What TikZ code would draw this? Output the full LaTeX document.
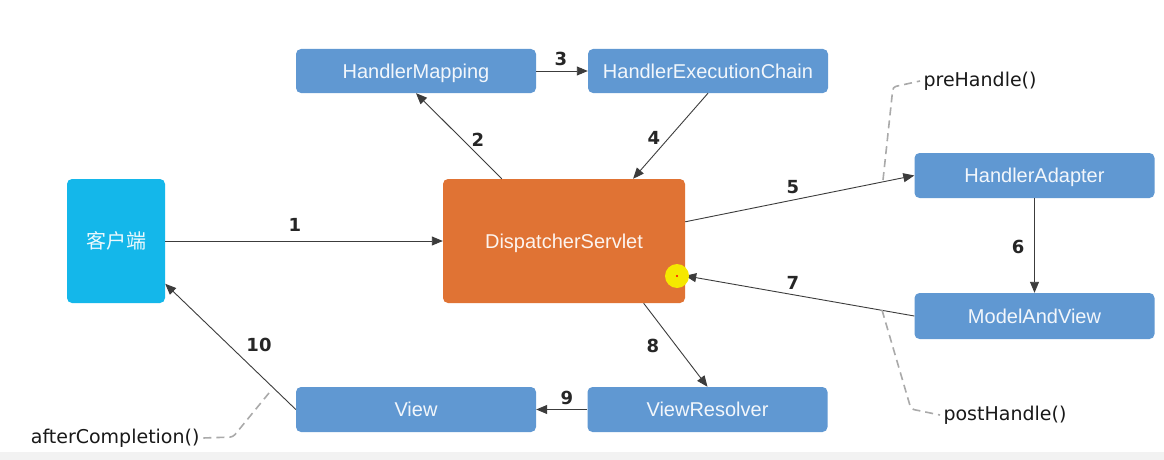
\documentclass[tikz,border=0pt]{standalone}
\usepackage{fontspec}
\setmainfont{Liberation Sans}
\newfontfamily\cjkfont{Noto Sans CJK SC}
\newfontfamily\notefont{DejaVu Sans}
\usetikzlibrary{arrows.meta}

\newlength{\du}
\setlength{\du}{1pt}

\begin{document}
\begin{tikzpicture}[
  box/.style={rounded corners=5pt, inner sep=0pt, text=white, text opacity=0.92, text height=14.5pt, text depth=0pt, font=\fontsize{20}{24}\selectfont},
  bluebox/.style={box, fill=boxblue, minimum width=240pt, minimum height=45pt},
  flow/.style={draw=linegray, line width=0.9pt, -{Triangle[length=11pt,width=9pt]}},
  stepnum/.style={inner sep=0pt, text=black!85, font=\notefont\bfseries\fontsize{18}{20}\selectfont},
  hook/.style={draw=dashgray, line width=1.6pt, dash pattern=on 8pt off 5pt, rounded corners=3pt},
  hooktext/.style={text=black!90, font=\notefont\fontsize{19}{22}\selectfont}
]
\pgftransformxscale{1.000000}
\pgftransformyscale{-1.000000}
\definecolor{boxblue}{RGB}{96,152,210}
\definecolor{clientcyan}{RGB}{20,183,234}
\definecolor{servletorange}{RGB}{224,115,52}
\definecolor{linegray}{RGB}{60,60,60}
\definecolor{dashgray}{RGB}{170,170,170}
\definecolor{bandgray}{RGB}{242,242,242}
\definecolor{cursoryellow}{RGB}{245,232,0}
\useasboundingbox (0\du,0\du) rectangle (1164\du,460\du);
\fill[white] (0\du,0\du) rectangle (1164\du,452\du);
\fill[bandgray] (0\du,452\du) rectangle (1164\du,460\du);

\node[box, fill=clientcyan, minimum width=98pt, minimum height=124pt, font=\cjkfont\fontsize{20}{24}\selectfont] (client) at (116\du,241\du) {客户端};
\node[box, fill=servletorange, minimum width=242pt, minimum height=124pt] (servlet) at (564\du,241\du) {DispatcherServlet};
\node[bluebox, minimum height=44pt] (mapping) at (416\du,71\du) {HandlerMapping};
\node[bluebox, minimum height=44pt] (chain) at (708\du,71\du) {HandlerExecutionChain};
\node[bluebox] (adapter) at (1034.5\du,175.5\du) {HandlerAdapter};
\node[bluebox, minimum height=46pt] (mav) at (1034.5\du,316\du) {ModelAndView};
\node[bluebox] (resolver) at (707.5\du,409.5\du) {ViewResolver};
\node[bluebox] (view) at (416\du,409.5\du) {View};

\draw[flow] (client) -- (servlet);
\draw[flow] (servlet.135) -- (mapping.south);
\draw[flow] (mapping) -- (chain);
\draw[flow] (chain.south) -- (servlet.42);
\draw[flow] (servlet.9) -- (adapter.west);
\draw[flow] (adapter) -- (mav);
\draw[flow] (mav.west) -- (servlet.-16);
\draw[flow] (servlet.-38.5) -- (resolver.north);
\draw[flow] (resolver) -- (view);
\draw[flow] (view.west) -- (client.-41);

\node[stepnum] (n1) at (295\du,225\du) {1};
\node[stepnum] (n2) at (478\du,140\du) {2};
\node[stepnum] (n3) at (561\du,59\du) {3};
\node[stepnum] (n4) at (654\du,138\du) {4};
\node[stepnum] (n5) at (793\du,187\du) {5};
\node[stepnum] (n6) at (1018\du,247\du) {6};
\node[stepnum] (n7) at (793\du,283\du) {7};
\node[stepnum] (n8) at (653\du,346\du) {8};
\node[stepnum] (n9) at (567\du,398\du) {9};
\node[stepnum] (n10) at (259\du,345\du) {10};

\node[hooktext, anchor=west] (pre) at (920\du,81\du) {preHandle()};
\node[hooktext, anchor=west] (post) at (940\du,415\du) {postHandle()};
\node[hooktext, anchor=east] (after) at (203\du,438\du) {afterCompletion()};
\coordinate (preA) at (883\du,180\du);
\coordinate (preB) at (893\du,87\du);
\coordinate (postA) at (882\du,310\du);
\coordinate (postB) at (911\du,409\du);
\coordinate (afterA) at (269\du,393\du);
\coordinate (afterB) at (233\du,437\du);
\draw[hook] (preA) -- (preB) -- (pre.west);
\draw[hook] (postA) -- (postB) -- (post.west);
\draw[hook] (afterA) -- (afterB) -- (after.east);

\fill[cursoryellow] (677\du,276\du) circle (12\du);
\fill[red] (677\du,276\du) circle (1.2\du);
\end{tikzpicture}
\end{document}
